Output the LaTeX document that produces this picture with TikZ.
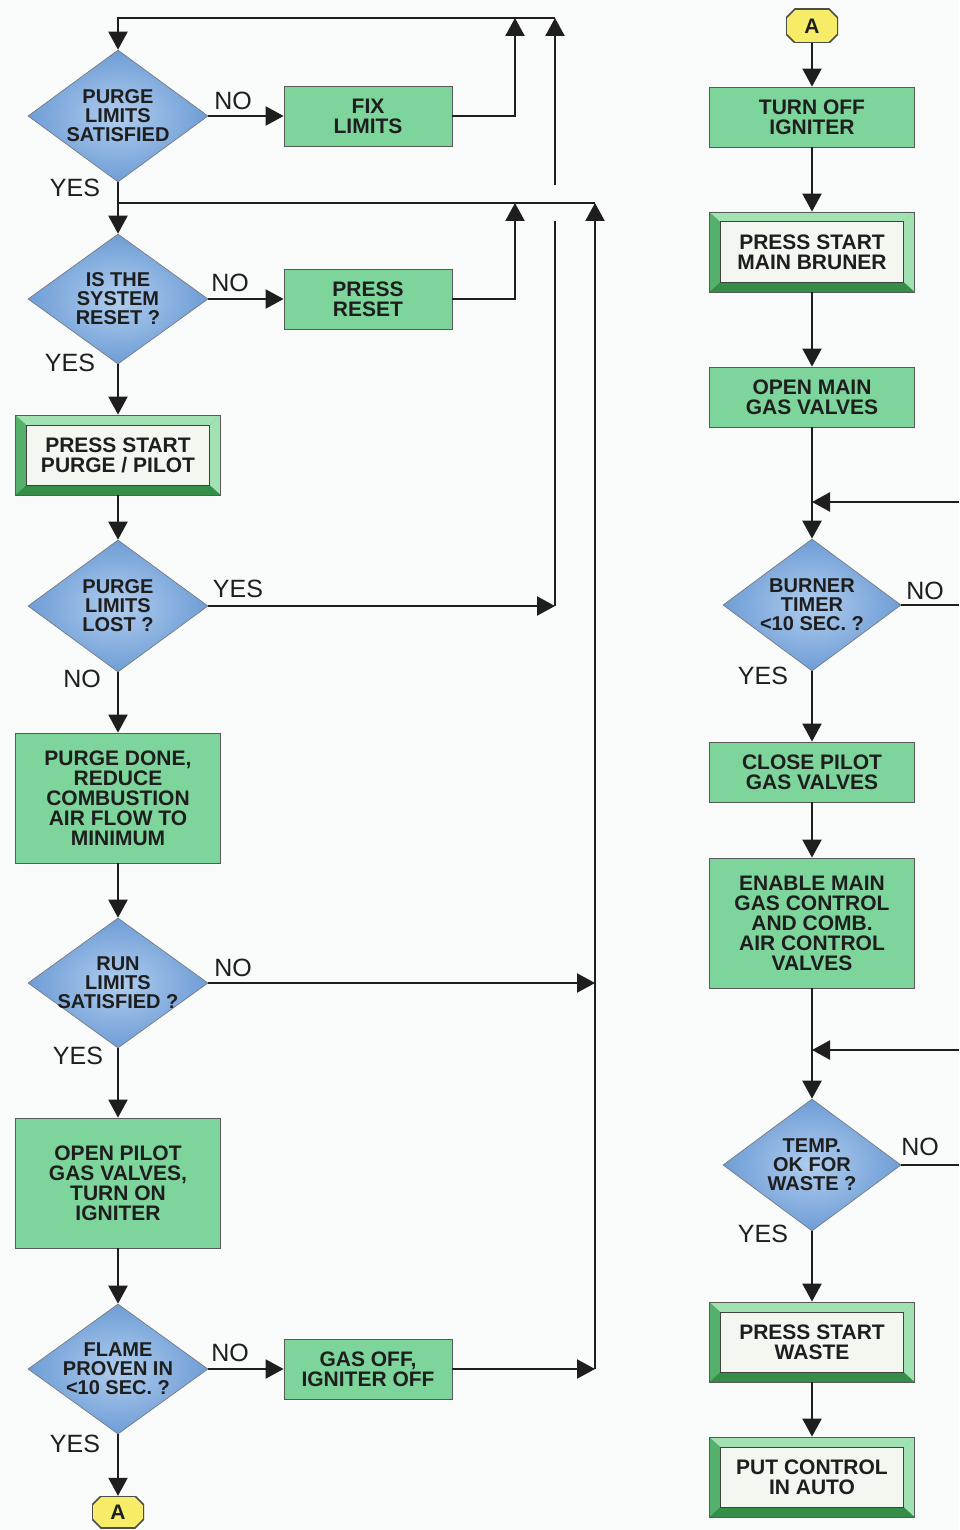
\documentclass[tikz,border=0pt]{standalone}
\usepackage{fontspec}
\usepackage{xcolor}
\setmainfont{Liberation Sans}
\usetikzlibrary{shapes.geometric,arrows.meta}

\definecolor{paper}{RGB}{249,250,250}
\definecolor{boxgreen}{RGB}{126,213,156}
\definecolor{bevlight}{RGB}{160,226,178}
\definecolor{bevmid}{RGB}{84,176,106}
\definecolor{bevdark}{RGB}{52,142,72}
\definecolor{panel}{RGB}{244,247,240}
\definecolor{diablue}{RGB}{110,157,214}
\definecolor{dialight}{RGB}{176,205,238}
\definecolor{tagyellow}{RGB}{246,236,104}
\definecolor{ink}{RGB}{30,30,30}

\newcommand{\boxfont}{\fontsize{21}{20}\selectfont\bfseries}
\newcommand{\diafont}{\fontsize{20}{19}\selectfont\bfseries}
\newcommand{\ansfont}{\fontsize{25}{25}\selectfont}

\begin{document}
\begin{tikzpicture}
		[x=1pt,y=-1pt,
		line/.style={draw=ink,line width=2.2pt},
		arr/.style={line,-{Triangle[length=18pt,width=19pt]}},
		process/.style={rectangle,draw=black!65,fill=boxgreen,line width=0.8pt,minimum width=205pt,minimum height=60pt,inner sep=0pt,align=center,font=\boxfont,text=ink},
		short/.style={process,minimum width=168pt},
		startbox/.style={process,minimum height=80pt,fill=bevmid,
			path picture={
				\coordinate (nw) at (path picture bounding box.north west);
				\coordinate (ne) at (path picture bounding box.north east);
				\coordinate (sw) at (path picture bounding box.south west);
				\coordinate (se) at (path picture bounding box.south east);
				\fill[bevlight] (nw) -- (ne) -- ([shift={(-11pt,-10pt)}]ne) -- ([shift={(11pt,-10pt)}]nw) -- cycle;
				\fill[bevlight] (ne) -- (se) -- ([shift={(-11pt,10pt)}]se) -- ([shift={(-11pt,-10pt)}]ne) -- cycle;
				\fill[bevdark] (sw) -- (se) -- ([shift={(-11pt,10pt)}]se) -- ([shift={(11pt,10pt)}]sw) -- cycle;
				\draw[fill=panel,draw=black!75,line width=1pt] ([shift={(11pt,-10pt)}]nw) rectangle ([shift={(-11pt,10pt)}]se);
			}},
		decision/.style={diamond,draw=black!55,line width=0.6pt,inner color=dialight,outer color=diablue,minimum width=180pt,minimum height=132pt,inner sep=-14pt,align=center,font=\diafont,text=ink},
		tag/.style={rectangle,minimum width=52pt,minimum height=34pt,inner sep=0pt,font=\boxfont,text=ink,
			path picture={
				\coordinate (nw) at (path picture bounding box.north west);
				\coordinate (ne) at (path picture bounding box.north east);
				\coordinate (sw) at (path picture bounding box.south west);
				\coordinate (se) at (path picture bounding box.south east);
				\filldraw[fill=tagyellow,draw=black!70,line width=1.6pt] ([xshift=9pt]nw) -- ([xshift=-9pt]ne) -- ([yshift=-9pt]ne)
					-- ([yshift=9pt]se) -- ([xshift=-9pt]se) -- ([xshift=9pt]sw) -- ([yshift=9pt]sw) -- ([yshift=-9pt]nw) -- cycle;
			}},
		answer/.style={font=\ansfont,text=ink,inner sep=0pt}]
		\useasboundingbox (0,0) rectangle (959,1530);
		\fill[paper] (0,0) rectangle (959,1530);

		\node [decision] (d1) at (118,116) {PURGE\\LIMITS\\SATISFIED};
		\node [short] (fix) at (368,116) {FIX\\LIMITS};
		\node [decision,minimum height=130pt] (d2) at (118,299) {IS THE\\SYSTEM\\RESET ?};
		\node [short] (reset) at (368,299) {PRESS\\RESET};
		\node [startbox] (pilot) at (118,455) {PRESS START\\PURGE / PILOT};
		\node [decision] (d3) at (118,606) {PURGE\\LIMITS\\LOST ?};
		\node [process,minimum height=130pt] (purge) at (118,798) {PURGE DONE,\\REDUCE\\COMBUSTION\\AIR FLOW TO\\MINIMUM};
		\node [decision,minimum height=130pt] (d4) at (118,983) {RUN\\LIMITS\\SATISFIED ?};
		\node [process,minimum height=130pt] (ignite) at (118,1183) {OPEN PILOT\\GAS VALVES,\\TURN ON\\IGNITER};
		\node [decision,minimum height=130pt] (d5) at (118,1369) {FLAME\\PROVEN IN\\<10 SEC. ?};
		\node [short] (gasoff) at (368,1369) {GAS OFF,\\IGNITER OFF};
		\node [tag,minimum height=32pt] (a1) at (118,1512) {A};

		\node [tag] (a2) at (812,26) {A};
		\node [process] (ignoff) at (812,117) {TURN OFF\\IGNITER};
		\node [startbox] (burner) at (812,252) {PRESS START\\MAIN BRUNER};
		\node [process] (mainvalve) at (812,397) {OPEN MAIN\\GAS VALVES};
		\node [decision,minimum width=178pt] (d6) at (812,605) {BURNER\\TIMER\\<10 SEC. ?};
		\node [process] (closepilot) at (812,772) {CLOSE PILOT\\GAS VALVES};
		\node [process,minimum height=130pt] (enable) at (812,923) {ENABLE MAIN\\GAS CONTROL\\AND COMB.\\AIR CONTROL\\VALVES};
		\node [decision,minimum width=178pt] (d7) at (812,1165) {TEMP.\\OK FOR\\WASTE ?};
		\node [startbox] (waste) at (812,1342) {PRESS START\\WASTE};
		\node [startbox] (auto) at (812,1477) {PUT CONTROL\\IN AUTO};

		\coordinate (c1) at (515,18);
		\coordinate (c2) at (555,18);
		\coordinate (c3) at (515,203);
		\coordinate (c4) at (595,203);
		\coordinate (c5) at (555,606);
		\coordinate (c6) at (595,983);
		\coordinate (c7) at (595,1369);
		\coordinate (g1) at (555,185);
		\coordinate (g2) at (555,221);
		\coordinate (e1) at (959,502);
		\coordinate (e2) at (959,605);
		\coordinate (e3) at (959,1050);
		\coordinate (e4) at (959,1165);

		\draw [arr] (c2) -| (d1.north);
		\draw [arr] (d1) -- (fix);
		\draw [arr] (fix) -| (c1);
		\draw [arr] (d1) -- (d2);
		\draw [line] (c4) -- (c4 -| d2.north);
		\draw [arr] (d2) -- (reset);
		\draw [arr] (reset) -| (c3);
		\draw [arr] (d2) -- (pilot);
		\draw [arr] (pilot) -- (d3);
		\draw [arr] (d3) -- (c5);
		\draw [line] (c5) -- (g2);
		\draw [arr] (g1) -- (c2);
		\draw [arr] (d3) -- (purge);
		\draw [arr] (purge) -- (d4);
		\draw [arr] (d4) -- (c6);
		\draw [arr] (d4) -- (ignite);
		\draw [arr] (ignite) -- (d5);
		\draw [arr] (d5) -- (gasoff);
		\draw [arr] (gasoff) -- (c7);
		\draw [arr] (c7) -- (c4);
		\draw [arr] (d5) -- (a1);

		\draw [arr] (a2) -- (ignoff);
		\draw [arr] (ignoff) -- (burner);
		\draw [arr] (burner) -- (mainvalve);
		\draw [arr] (mainvalve) -- (d6);
		\draw [arr] (e1) -- (e1 -| d6.north);
		\draw [line] (d6) -- (e2);
		\draw [arr] (d6) -- (closepilot);
		\draw [arr] (closepilot) -- (enable);
		\draw [arr] (enable) -- (d7);
		\draw [arr] (e3) -- (e3 -| d7.north);
		\draw [line] (d7) -- (e4);
		\draw [arr] (d7) -- (waste);
		\draw [arr] (waste) -- (auto);

		\node [answer] (n1) at (233,101) {NO};
		\node [answer] (y1) at (75,188) {YES};
		\node [answer] (n2) at (230,283) {NO};
		\node [answer] (y2) at (70,363) {YES};
		\node [answer] (y3) at (238,589) {YES};
		\node [answer] (n3) at (82,679) {NO};
		\node [answer] (n4) at (233,968) {NO};
		\node [answer] (y4) at (78,1056) {YES};
		\node [answer] (n5) at (230,1353) {NO};
		\node [answer] (y5) at (75,1444) {YES};
		\node [answer] (n6) at (925,591) {NO};
		\node [answer] (y6) at (763,676) {YES};
		\node [answer] (n7) at (920,1147) {NO};
		\node [answer] (y7) at (763,1234) {YES};

	\end{tikzpicture}
\end{document}
